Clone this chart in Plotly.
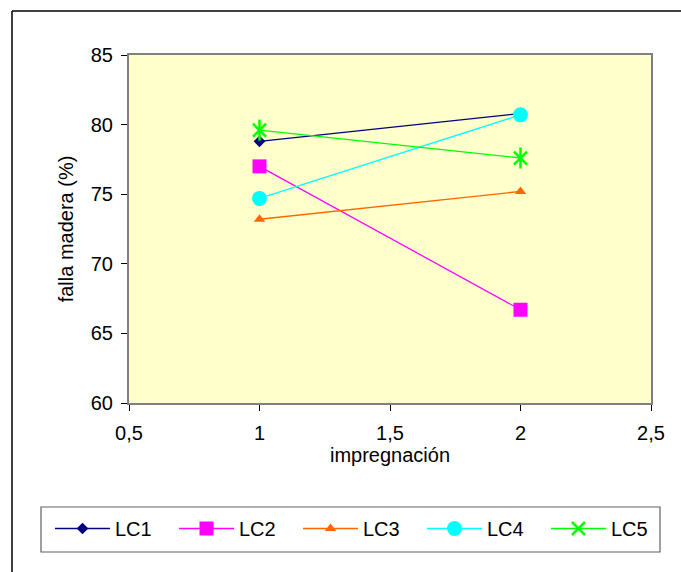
import plotly.graph_objects as go

# Adhesion test results: wood failure (%) by impregnation level
impregnacion = [1, 2]
series_names = ["LC1", "LC2", "LC3", "LC4", "LC5"]
lc1 = [78.8, 80.8]
lc2 = [77.0, 66.7]
lc3 = [73.2, 75.2]
lc4 = [74.7, 80.7]
lc5 = [79.6, 77.6]
y_ticks = [60, 65, 70, 75, 80, 85]
x_ticks = [0.5, 1, 1.5, 2, 2.5]

W, H = 681, 572
L, R, T, B = 129, 30, 55, 169
pw, ph = W - L - R, H - T - B


def px_x(px):
    return (px - L) / pw


def px_y(py):
    return (H - B - py) / ph


styles = {
    "LC1": dict(color="#000080", symbol="diamond", size=9),
    "LC2": dict(color="#FF00FF", symbol="square", size=14),
    "LC3": dict(color="#FF6600", symbol="triangle-up", size=10),
    "LC4": dict(color="#00FFFF", symbol="circle", size=15),
}
values = {"LC1": lc1, "LC2": lc2, "LC3": lc3, "LC4": lc4, "LC5": lc5}

fig = go.Figure()
for name in series_names[:4]:
    s = styles[name]
    fig.add_trace(go.Scatter(
        x=impregnacion, y=values[name], name=name, mode="lines+markers",
        line=dict(color=s["color"], width=1.3),
        marker=dict(symbol=s["symbol"], size=s["size"], color=s["color"],
                    line=dict(width=0)),
    ))

# LC5 star marker: an "x" plus a vertical stroke
fig.add_trace(go.Scatter(
    x=impregnacion, y=lc5, name="LC5", mode="lines+markers",
    line=dict(color="#00FF00", width=1.3),
    marker=dict(symbol="x-thin-open", size=13, color="#00FF00",
                line=dict(width=2.5, color="#00FF00")),
))
fig.add_trace(go.Scatter(
    x=impregnacion, y=lc5, mode="markers", showlegend=False, hoverinfo="skip",
    marker=dict(symbol="line-ns-open", size=15, color="#00FF00",
                line=dict(width=2.5, color="#00FF00")),
))

font = dict(family="Liberation Sans, Arial, sans-serif", size=20, color="#000000")

fig.update_layout(
    width=W, height=H,
    margin=dict(l=L, r=R, t=T, b=B),
    paper_bgcolor="#FFFFFF",
    plot_bgcolor="#FFFFCC",
    separators=",.",
    font=font,
    showlegend=True,
    legend=dict(
        orientation="h",
        x=px_x(50), xanchor="left",
        y=px_y(509), yanchor="top",
        borderwidth=0,
        bgcolor="rgba(0,0,0,0)",
        font=font,
        entrywidth=54, entrywidthmode="pixels",
        itemwidth=55,
    ),
    xaxis=dict(
        range=[0.5, 2.5], tickvals=x_ticks, ticks="outside", ticklen=6,
        tickcolor="#000000", showgrid=False, zeroline=False,
        showline=True, linecolor="#808080", linewidth=2, mirror=True,
        title=dict(text="impregnación", font=font, standoff=5),
        tickfont=font, ticklabelstandoff=5,
    ),
    yaxis=dict(
        range=[60, 85], tickvals=y_ticks, ticks="outside", ticklen=6,
        tickcolor="#000000", showgrid=False, zeroline=False,
        showline=True, linecolor="#808080", linewidth=2, mirror=True,
        title=dict(text="falla madera (%)", font=font, standoff=12),
        tickfont=font, ticklabelstandoff=4,
    ),
    shapes=[
        # outer chart frame (top and left edges)
        dict(type="line", xref="paper", yref="paper",
             x0=px_x(12), x1=px_x(W + 5), y0=px_y(11), y1=px_y(11),
             line=dict(color="#000000", width=1.5)),
        dict(type="line", xref="paper", yref="paper",
             x0=px_x(12), x1=px_x(12), y0=px_y(11), y1=px_y(H + 5),
             line=dict(color="#000000", width=1.5)),
        # legend box
        dict(type="rect", xref="paper", yref="paper", layer="below",
             x0=px_x(41), x1=px_x(660), y0=px_y(552), y1=px_y(507),
             line=dict(color="#606060", width=1.2), fillcolor="#FFFFFF"),
    ],
)

fig.write_html("out.html")
